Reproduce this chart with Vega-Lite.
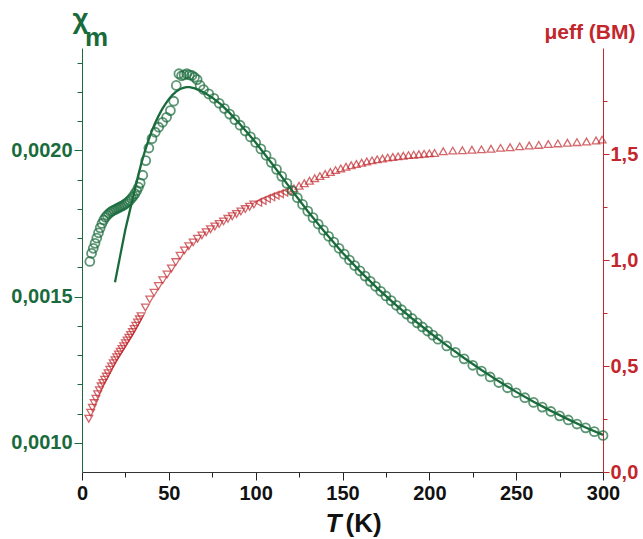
{
  "$schema": "https://vega.github.io/schema/vega-lite/v6.json",
  "width": 521,
  "height": 424,
  "autosize": {"type": "none"},
  "padding": {"left": 82, "top": 48, "right": 40, "bottom": 67},
  "background": "white",
  "config": {
    "view": {"stroke": null},
    "font": "Liberation Sans",
    "axis": {"grid": false, "labelFont": "Liberation Sans", "titleFont": "Liberation Sans", "labelOverlap": false, "labelFlush": false, "labelBound": false}
  },
  "title": {
    "text": "m",
    "orient": "top",
    "anchor": "start",
    "frame": "group",
    "align": "left",
    "baseline": "alphabetic",
    "dx": 3,
    "dy": 67,
    "offset": 0,
    "fontSize": 26,
    "fontWeight": "bold",
    "color": "#1a6b3c",
    "font": "Liberation Sans"
  },
  "datasets": {
    "chi": [
      {"T": 4.5, "chi": 0.00162}, {"T": 5.5, "chi": 0.001648}, {"T": 6.5, "chi": 0.001665}, {"T": 7.5, "chi": 0.001682},
      {"T": 8.5, "chi": 0.0017}, {"T": 9.5, "chi": 0.001718}, {"T": 10.5, "chi": 0.001735}, {"T": 11.5, "chi": 0.00175},
      {"T": 12.5, "chi": 0.001762}, {"T": 13.5, "chi": 0.001771}, {"T": 14.5, "chi": 0.001778}, {"T": 15.5, "chi": 0.001784},
      {"T": 16.5, "chi": 0.001789}, {"T": 17.5, "chi": 0.001793}, {"T": 18.5, "chi": 0.001796}, {"T": 19.5, "chi": 0.001799},
      {"T": 20.5, "chi": 0.001802}, {"T": 21.5, "chi": 0.001805}, {"T": 22.5, "chi": 0.001808}, {"T": 23.5, "chi": 0.001811},
      {"T": 24.5, "chi": 0.001815}, {"T": 25.5, "chi": 0.001819}, {"T": 26.5, "chi": 0.001824}, {"T": 27.5, "chi": 0.001829},
      {"T": 28.5, "chi": 0.001836}, {"T": 29.5, "chi": 0.001843}, {"T": 30.5, "chi": 0.001852}, {"T": 31.5, "chi": 0.001862},
      {"T": 32.5, "chi": 0.001874}, {"T": 33.5, "chi": 0.001888}, {"T": 35, "chi": 0.001915}, {"T": 36.7, "chi": 0.001965},
      {"T": 38.5, "chi": 0.002008}, {"T": 40.3, "chi": 0.00204}, {"T": 42.2, "chi": 0.002062}, {"T": 44.2, "chi": 0.002079},
      {"T": 46.4, "chi": 0.002096}, {"T": 48.7, "chi": 0.002113}, {"T": 50.9, "chi": 0.002136}, {"T": 52.8, "chi": 0.002168},
      {"T": 54.3, "chi": 0.002222}, {"T": 55.8, "chi": 0.002262}, {"T": 57.3, "chi": 0.002255}, {"T": 58.8, "chi": 0.002258},
      {"T": 60.3, "chi": 0.002262}, {"T": 61.8, "chi": 0.002258}, {"T": 63.3, "chi": 0.002256}, {"T": 64.8, "chi": 0.00225},
      {"T": 66.3, "chi": 0.002242}, {"T": 68, "chi": 0.002222}, {"T": 70, "chi": 0.002208}, {"T": 73, "chi": 0.002193},
      {"T": 76, "chi": 0.002178}, {"T": 79, "chi": 0.002161}, {"T": 82, "chi": 0.002143}, {"T": 85, "chi": 0.002124},
      {"T": 88, "chi": 0.002105}, {"T": 91, "chi": 0.002086}, {"T": 94, "chi": 0.002066}, {"T": 97, "chi": 0.002046},
      {"T": 100, "chi": 0.002027}, {"T": 103, "chi": 0.002005}, {"T": 106, "chi": 0.001983}, {"T": 109, "chi": 0.001959},
      {"T": 112, "chi": 0.001935}, {"T": 115, "chi": 0.001911}, {"T": 118, "chi": 0.001887}, {"T": 121, "chi": 0.001862},
      {"T": 124, "chi": 0.001838}, {"T": 127, "chi": 0.001815}, {"T": 130, "chi": 0.001792}, {"T": 133, "chi": 0.00177},
      {"T": 136, "chi": 0.001748}, {"T": 139, "chi": 0.001727}, {"T": 142, "chi": 0.001706}, {"T": 145, "chi": 0.001686},
      {"T": 148, "chi": 0.001665}, {"T": 151, "chi": 0.001645}, {"T": 154, "chi": 0.001625}, {"T": 157, "chi": 0.001606},
      {"T": 160, "chi": 0.001588}, {"T": 163, "chi": 0.00157}, {"T": 166, "chi": 0.001552}, {"T": 169, "chi": 0.001535},
      {"T": 172, "chi": 0.001518}, {"T": 175, "chi": 0.001502}, {"T": 178, "chi": 0.001486}, {"T": 181, "chi": 0.00147},
      {"T": 184, "chi": 0.001455}, {"T": 187, "chi": 0.00144}, {"T": 190, "chi": 0.001425}, {"T": 193, "chi": 0.00141},
      {"T": 196, "chi": 0.001396}, {"T": 199, "chi": 0.001382}, {"T": 202, "chi": 0.001368}, {"T": 205, "chi": 0.001354},
      {"T": 210, "chi": 0.001331}, {"T": 215, "chi": 0.001309}, {"T": 220, "chi": 0.001287}, {"T": 225, "chi": 0.001265},
      {"T": 230, "chi": 0.001245}, {"T": 235, "chi": 0.001225}, {"T": 240, "chi": 0.001206}, {"T": 245, "chi": 0.001188},
      {"T": 250, "chi": 0.001171}, {"T": 255, "chi": 0.001154}, {"T": 260, "chi": 0.001138}, {"T": 265, "chi": 0.001122},
      {"T": 270, "chi": 0.001107}, {"T": 275, "chi": 0.001092}, {"T": 280, "chi": 0.001078}, {"T": 285, "chi": 0.001064},
      {"T": 290, "chi": 0.001051}, {"T": 295, "chi": 0.001038}, {"T": 300, "chi": 0.001025}
    ],
    "fit": [
      {"T": 19, "chi": 0.001549}, {"T": 22, "chi": 0.00164}, {"T": 25, "chi": 0.00173}, {"T": 28, "chi": 0.001805},
      {"T": 30, "chi": 0.001855}, {"T": 32, "chi": 0.001905}, {"T": 34, "chi": 0.001952}, {"T": 36, "chi": 0.001993},
      {"T": 38, "chi": 0.00203}, {"T": 40, "chi": 0.002063}, {"T": 42, "chi": 0.002092}, {"T": 44, "chi": 0.002117},
      {"T": 46, "chi": 0.002139}, {"T": 48, "chi": 0.002158}, {"T": 50, "chi": 0.002175}, {"T": 52, "chi": 0.002189},
      {"T": 54, "chi": 0.0022}, {"T": 56, "chi": 0.002208}, {"T": 58, "chi": 0.002213}, {"T": 60, "chi": 0.002216},
      {"T": 62, "chi": 0.002216}, {"T": 65, "chi": 0.002212}, {"T": 70, "chi": 0.002199}, {"T": 75, "chi": 0.00218},
      {"T": 80, "chi": 0.002157}, {"T": 85, "chi": 0.002128}, {"T": 90, "chi": 0.002096}, {"T": 95, "chi": 0.002062},
      {"T": 100, "chi": 0.002027}, {"T": 110, "chi": 0.00195}, {"T": 120, "chi": 0.00187}, {"T": 130, "chi": 0.001792},
      {"T": 140, "chi": 0.001719}, {"T": 150, "chi": 0.00165}, {"T": 160, "chi": 0.001587}, {"T": 170, "chi": 0.001529},
      {"T": 180, "chi": 0.001475}, {"T": 190, "chi": 0.001425}, {"T": 200, "chi": 0.001378}, {"T": 210, "chi": 0.001333},
      {"T": 220, "chi": 0.00129}, {"T": 230, "chi": 0.001249}, {"T": 240, "chi": 0.00121}, {"T": 250, "chi": 0.001174},
      {"T": 260, "chi": 0.00114}, {"T": 270, "chi": 0.001109}, {"T": 280, "chi": 0.00108}, {"T": 290, "chi": 0.001052},
      {"T": 300, "chi": 0.001027}
    ],
    "mu": [
      {"T": 3.9, "mu": 0.251, "run": "A"}, {"T": 5, "mu": 0.28, "run": "A"}, {"T": 6, "mu": 0.303, "run": "A"}, {"T": 7, "mu": 0.325, "run": "A"},
      {"T": 8, "mu": 0.346, "run": "A"}, {"T": 9, "mu": 0.367, "run": "A"}, {"T": 10, "mu": 0.386, "run": "A"}, {"T": 11, "mu": 0.404, "run": "A"},
      {"T": 12, "mu": 0.42, "run": "A"}, {"T": 13, "mu": 0.435, "run": "A"}, {"T": 14, "mu": 0.45, "run": "A"}, {"T": 15, "mu": 0.466, "run": "A"},
      {"T": 16, "mu": 0.482, "run": "A"}, {"T": 17, "mu": 0.498, "run": "A"}, {"T": 18, "mu": 0.513, "run": "A"}, {"T": 19, "mu": 0.527, "run": "A"},
      {"T": 20, "mu": 0.541, "run": "A"}, {"T": 21, "mu": 0.554, "run": "A"}, {"T": 22, "mu": 0.567, "run": "A"}, {"T": 23, "mu": 0.58, "run": "A"},
      {"T": 24, "mu": 0.593, "run": "A"}, {"T": 25, "mu": 0.607, "run": "A"}, {"T": 26, "mu": 0.62, "run": "A"}, {"T": 27, "mu": 0.633, "run": "A"},
      {"T": 28, "mu": 0.646, "run": "A"}, {"T": 29, "mu": 0.66, "run": "A"}, {"T": 30, "mu": 0.675, "run": "A"}, {"T": 31, "mu": 0.69, "run": "A"},
      {"T": 32, "mu": 0.705, "run": "A"}, {"T": 33, "mu": 0.72, "run": "A"}, {"T": 34, "mu": 0.735, "run": "A"}, {"T": 36.5, "mu": 0.776, "run": "A"},
      {"T": 39, "mu": 0.814, "run": "A"}, {"T": 41.5, "mu": 0.846, "run": "A"}, {"T": 44, "mu": 0.877, "run": "A"}, {"T": 46.5, "mu": 0.905, "run": "A"},
      {"T": 49, "mu": 0.932, "run": "A"}, {"T": 51.5, "mu": 0.96, "run": "A"}, {"T": 54, "mu": 0.99, "run": "A"}, {"T": 56.5, "mu": 1.02, "run": "A"},
      {"T": 59, "mu": 1.045, "run": "A"}, {"T": 61.5, "mu": 1.065, "run": "A"}, {"T": 64, "mu": 1.083, "run": "A"}, {"T": 66.5, "mu": 1.1, "run": "A"},
      {"T": 69, "mu": 1.116, "run": "A"}, {"T": 71.5, "mu": 1.131, "run": "A"}, {"T": 74, "mu": 1.145, "run": "A"}, {"T": 76.5, "mu": 1.158, "run": "A"},
      {"T": 79, "mu": 1.17, "run": "A"}, {"T": 81.5, "mu": 1.182, "run": "A"}, {"T": 84, "mu": 1.194, "run": "A"}, {"T": 86.5, "mu": 1.206, "run": "A"},
      {"T": 89, "mu": 1.217, "run": "A"}, {"T": 91.5, "mu": 1.229, "run": "A"}, {"T": 94, "mu": 1.24, "run": "A"}, {"T": 96.5, "mu": 1.251, "run": "A"},
      {"T": 99, "mu": 1.262, "run": "A"}, {"T": 101.5, "mu": 1.272, "run": "B"}, {"T": 104, "mu": 1.281, "run": "B"}, {"T": 106.5, "mu": 1.29, "run": "B"},
      {"T": 109, "mu": 1.298, "run": "B"}, {"T": 111.5, "mu": 1.306, "run": "B"}, {"T": 114, "mu": 1.313, "run": "B"}, {"T": 116.5, "mu": 1.32, "run": "B"},
      {"T": 119, "mu": 1.327, "run": "B"}, {"T": 122, "mu": 1.338, "run": "C"}, {"T": 125, "mu": 1.35, "run": "C"}, {"T": 128, "mu": 1.362, "run": "C"},
      {"T": 131, "mu": 1.374, "run": "C"}, {"T": 134, "mu": 1.386, "run": "C"}, {"T": 137, "mu": 1.396, "run": "C"}, {"T": 140, "mu": 1.406, "run": "C"},
      {"T": 143, "mu": 1.415, "run": "C"}, {"T": 146, "mu": 1.424, "run": "C"}, {"T": 149, "mu": 1.432, "run": "C"}, {"T": 152, "mu": 1.44, "run": "C"},
      {"T": 155, "mu": 1.447, "run": "C"}, {"T": 158, "mu": 1.453, "run": "C"}, {"T": 161, "mu": 1.459, "run": "C"}, {"T": 164, "mu": 1.465, "run": "C"},
      {"T": 167, "mu": 1.47, "run": "C"}, {"T": 170, "mu": 1.475, "run": "C"}, {"T": 173, "mu": 1.479, "run": "C"}, {"T": 176, "mu": 1.483, "run": "C"},
      {"T": 179, "mu": 1.486, "run": "C"}, {"T": 182, "mu": 1.489, "run": "C"}, {"T": 185, "mu": 1.492, "run": "C"}, {"T": 188, "mu": 1.495, "run": "C"},
      {"T": 191, "mu": 1.497, "run": "C"}, {"T": 194, "mu": 1.499, "run": "C"}, {"T": 197, "mu": 1.501, "run": "C"}, {"T": 200, "mu": 1.503, "run": "C"},
      {"T": 203, "mu": 1.505, "run": "C"}, {"T": 208, "mu": 1.513, "run": "C"}, {"T": 213.5, "mu": 1.516, "run": "C"}, {"T": 219, "mu": 1.518, "run": "C"},
      {"T": 224.5, "mu": 1.52, "run": "C"}, {"T": 230, "mu": 1.522, "run": "C"}, {"T": 235.5, "mu": 1.525, "run": "C"}, {"T": 241, "mu": 1.529, "run": "C"},
      {"T": 246.5, "mu": 1.532, "run": "C"}, {"T": 252, "mu": 1.536, "run": "C"}, {"T": 257.5, "mu": 1.54, "run": "C"}, {"T": 263, "mu": 1.543, "run": "C"},
      {"T": 268.5, "mu": 1.547, "run": "C"}, {"T": 274, "mu": 1.55, "run": "C"}, {"T": 279.5, "mu": 1.553, "run": "C"}, {"T": 285, "mu": 1.556, "run": "C"},
      {"T": 290.5, "mu": 1.559, "run": "C"}, {"T": 296, "mu": 1.564, "run": "C"}, {"T": 299.5, "mu": 1.568, "run": "C"}
    ]
  },
  "layer": [
    {
      "data": {"name": "mu"},
      "mark": {"type": "point", "filled": false, "size": 60, "strokeWidth": 1.3, "color": "#c2272d", "clip": false},
      "encoding": {
        "x": {
          "field": "T", "type": "quantitative",
          "scale": {"domain": [0, 300], "nice": false, "zero": false},
          "axis": {
            "orient": "top", "domain": false, "ticks": false, "labels": false, "grid": false,
            "title": "T", "titleX": 243, "titleY": 483, "titleAlign": "left", "titleBaseline": "alphabetic", "titleAngle": 0,
            "titleFontSize": 26, "titleFontStyle": "italic", "titleFontWeight": "bold", "titleColor": "#111111"
          }
        },
        "y": {
          "field": "mu", "type": "quantitative",
          "scale": {"domain": [0, 2.0], "nice": false, "zero": false},
          "axis": {
            "orient": "right",
            "values": [0, 0.25, 0.5, 0.75, 1.0, 1.25, 1.5, 1.75],
            "labelExpr": "round(datum.value*100) % 50 === 0 ? replace(format(datum.value, '.1f'), '.', ',') : ''",
            "tickSize": {"condition": {"test": "round(datum.value*100) % 50 === 0", "value": 6}, "value": 4},
            "tickColor": "#c2272d", "tickWidth": 1, "domainColor": "#c2272d", "domainWidth": 1,
            "labelColor": "#c2272d", "labelFontSize": 20, "labelFontWeight": "bold", "labelPadding": 1,
            "title": "μeff (BM)", "titleAngle": 0, "titleX": 32, "titleY": -10, "titleAlign": "right", "titleBaseline": "alphabetic",
            "titleFontSize": 21, "titleFontWeight": "bold", "titleColor": "#c2272d"
          }
        },
        "shape": {
          "field": "run", "type": "nominal",
          "scale": {"domain": ["A", "B", "C"], "range": ["triangle-down", "triangle-left", "triangle-up"]},
          "legend": null
        }
      }
    },
    {
      "encoding": {
        "x": {
          "field": "T", "type": "quantitative",
          "scale": {"domain": [0, 300], "nice": false, "zero": false},
          "axis": {
            "orient": "bottom",
            "values": [0, 25, 50, 75, 100, 125, 150, 175, 200, 225, 250, 275, 300],
            "labelExpr": "datum.value % 50 === 0 ? format(datum.value, 'd') : ''",
            "tickSize": {"condition": {"test": "datum.value % 50 === 0", "value": 8}, "value": 5},
            "tickColor": "#222222", "tickWidth": 1, "domainColor": "#333333", "domainWidth": 1,
            "labelColor": "#111111", "labelFontSize": 20, "labelFontWeight": "bold", "labelPadding": 3,
            "title": "(K)", "titleX": 263, "titleY": 59, "titleAlign": "left", "titleBaseline": "alphabetic", "titleAngle": 0,
            "titleFontSize": 26, "titleFontWeight": "bold", "titleColor": "#111111"
          }
        },
        "y": {
          "field": "chi", "type": "quantitative",
          "scale": {"domain": [0.0009, 0.00235], "nice": false, "zero": false},
          "axis": {
            "orient": "left",
            "values": [0.001, 0.0011, 0.0012, 0.0013, 0.0014, 0.0015, 0.0016, 0.0017, 0.0018, 0.0019, 0.002, 0.0021, 0.0022, 0.0023],
            "labelExpr": "round(datum.value*10000) % 5 === 0 ? replace(format(datum.value, '.4f'), '.', ',') : ''",
            "tickSize": {"condition": {"test": "round(datum.value*10000) % 5 === 0", "value": 8}, "value": 5},
            "tickColor": "#1a6b3c", "tickWidth": 1, "domainColor": "#1a6b3c", "domainWidth": 1,
            "labelColor": "#1a6b3c", "labelFontSize": 20, "labelFontWeight": "bold", "labelPadding": 2,
            "title": "χ", "titleAngle": 0, "titleX": -2, "titleY": -21, "titleAlign": "center", "titleBaseline": "alphabetic",
            "titleFontSize": 28, "titleFontWeight": "bold", "titleColor": "#1a6b3c"
          }
        }
      },
      "layer": [
        {
          "data": {"name": "chi"},
          "mark": {"type": "point", "shape": "circle", "filled": false, "size": 80, "strokeWidth": 1.8, "color": "#1a6b3c", "clip": false}
        },
        {
          "data": {"name": "fit"},
          "mark": {"type": "line", "strokeWidth": 2.3, "color": "#1a6b3c", "clip": false}
        }
      ]
    }
  ],
  "resolve": {"scale": {"y": "independent"}, "axis": {"x": "independent", "y": "independent"}}
}
